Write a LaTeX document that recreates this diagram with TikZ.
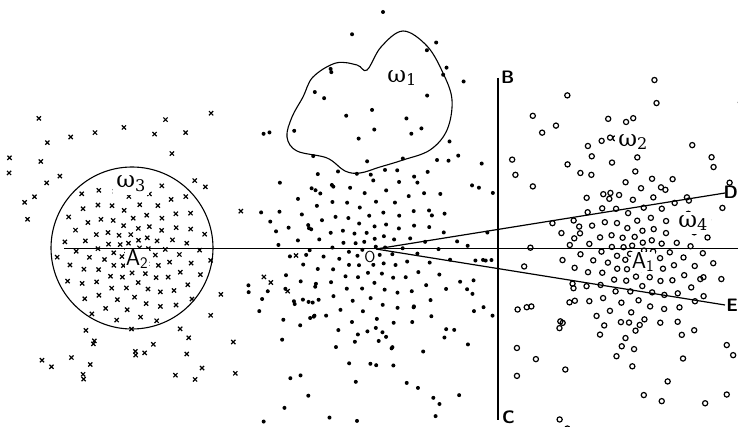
\documentclass[tikz,border=0pt]{standalone}
\usepackage{fontspec}
\newfontfamily\grk{DejaVu Serif}
\newcommand\mydot[2]{\fill (#1,#2) circle[radius=2];}
\newcommand\mycross[2]{\draw[line width=1.2pt] (#1-2.1,#2-2.1) -- (#1+2.1,#2+2.1) (#1-2.1,#2+2.1) -- (#1+2.1,#2-2.1);}
\newcommand\myring[2]{\draw[line width=1.2pt] (#1,#2) circle[radius=2.6];}
\begin{document}
\begin{tikzpicture}[x=1pt,y=-1pt,
  lbl/.style={font=\sffamily\fontsize{18}{18}\selectfont\bfseries, inner sep=0pt},
  wlbl/.style={font=\grk\fontsize{23}{23}\selectfont, inner sep=3pt, fill=white},
  albl/.style={font=\sffamily\fontsize{23}{23}\selectfont, inner sep=0.5pt, fill=white},
  thinline/.style={line width=0.7pt},
  ray/.style={line width=1.2pt},
  bound/.style={line width=1.1pt}]
\useasboundingbox[fill=white] (0,0) rectangle (738,427);
% key points
\coordinate (O) at (376,249);
\coordinate (D) at (725,193);
\coordinate (E) at (725,305);
\coordinate (B) at (498,78);
\coordinate (C) at (498,420);
\coordinate (H1) at (64,248);
\coordinate (H2) at (738,248);
% background crosses round the circle
\pgfmathsetseed{11}
\foreach \i in {1,...,50} {
  \pgfmathsetmacro\aa{360*rnd}
  \pgfmathsetmacro\rr{86+75*rnd}
  \pgfmathsetmacro\xx{133+1.1*\rr*cos(\aa)}
  \pgfmathsetmacro\yy{250+\rr*sin(\aa)}
  \ifdim\xx pt>6pt \mycross{\xx}{\yy}\fi
}
% background dots (middle)
\pgfmathsetseed{23}
\foreach \i in {1,...,150} {
  \pgfmathsetmacro\aa{360*rnd}
  \pgfmathsetmacro\rr{75+150*rnd}
  \pgfmathsetmacro\xx{370+0.8*\rr*cos(\aa)}
  \pgfmathsetmacro\yy{250+\rr*sin(\aa)}
  \ifdim\xx pt<493pt \ifdim\xx pt>248pt \ifdim\yy pt>18pt \mydot{\xx}{\yy}\fi\fi\fi
}
\mydot{383}{12}
% background rings (right)
\pgfmathsetseed{5}
\foreach \i in {1,...,110} {
  \pgfmathsetmacro\aa{360*rnd}
  \pgfmathsetmacro\rr{62+130*rnd}
  \pgfmathsetmacro\xx{636+\rr*cos(\aa)}
  \pgfmathsetmacro\yy{255+\rr*sin(\aa)}
  \ifdim\xx pt>507pt \ifdim\yy pt>80pt \myring{\xx}{\yy}\fi\fi
}
% cluster of dots round O
\foreach \n in {3,...,130} {
  \pgfmathsetmacro\aa{360*(\n*0.381966-floor(\n*0.381966))}
  \pgfmathsetmacro\rr{2.4*\n^0.75}
  \pgfmathsetmacro\xx{369+\rr*cos(\aa)}
  \pgfmathsetmacro\yy{251+\rr*sin(\aa)}
  \mydot{\xx}{\yy}
}
% cluster of crosses round A2
\foreach \n in {3,...,110} {
  \pgfmathsetmacro\aa{360*(\n*0.381966-floor(\n*0.381966))}
  \pgfmathsetmacro\rr{2.3*\n^0.75}
  \pgfmathsetmacro\xx{133+\rr*cos(\aa)}
  \pgfmathsetmacro\yy{252+\rr*sin(\aa)}
  \mycross{\xx}{\yy}
}
% cluster of rings round A1
\foreach \n in {3,...,115} {
  \pgfmathsetmacro\aa{360*(\n*0.381966-floor(\n*0.381966))}
  \pgfmathsetmacro\rr{2.6*\n^0.72}
  \pgfmathsetmacro\xx{637+\rr*cos(\aa)}
  \pgfmathsetmacro\yy{255+\rr*sin(\aa)}
  \myring{\xx}{\yy}
}
% lines
\draw[thinline] (H1) -- (H2);
\draw[line width=1.5pt] (B) -- (C);
\draw[ray] (O) -- (D);
\draw[ray] (O) -- (E);
\draw[bound] (132,248) circle[radius=81];
\draw[bound] plot[smooth cycle, tension=0.6] coordinates {
  (367,70) (381,47) (403,31) (427,46) (443,73) (452,100) (447,130)
  (430,150) (403,160) (380,167) (360,173) (345,171) (327,158) (297,151)
  (287,137) (292,117) (303,97) (313,77) (336,63) (357,65)};
% labels
\node[lbl, anchor=south west] (lB) at (501,84) {B};
\node[lbl, anchor=north west] (lC) at (502,411) {C};
\node[lbl, anchor=east] (lD) at (738,192) {D};
\node[lbl, anchor=east] (lE) at (738,305) {E};
\node[wlbl] (w1) at (402,78) {ω\textsubscript{1}};
\node[wlbl] (w2) at (633,142) {ω\textsubscript{2}};
\node[wlbl] (w3) at (131,184) {ω\textsubscript{3}};
\node[wlbl] (w4) at (693,223) {ω\textsubscript{4}};
\node[albl] (A2) at (137,259) {A\textsubscript{2}};
\node[albl] (A1) at (643,262) {A\textsubscript{1}};
\node[font=\sffamily\fontsize{16}{16}\selectfont, inner sep=0.5pt, fill=white] (lO) at (370,257) {O};
\end{tikzpicture}
\end{document}
